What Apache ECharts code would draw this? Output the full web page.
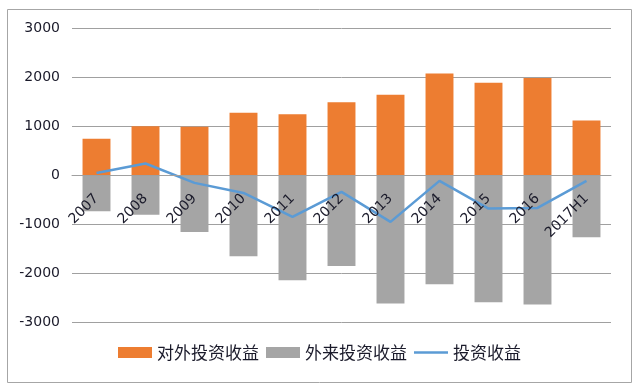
<!DOCTYPE html>
<html>
<head>
<meta charset="utf-8">
<style>
html,body{margin:0;padding:0;background:#fff;}
#chart{width:639px;height:389px;}
</style>
<script src="https://cdn.jsdelivr.net/npm/echarts@6/dist/echarts.min.js"></script>
</head>
<body>
<div id="chart"></div>
<script>
const categories = ['2007','2008','2009','2010','2011','2012','2013','2014','2015','2016','2017H1'];
const outward = [750, 1005, 995, 1280, 1250, 1495, 1645, 2080, 1890, 1985, 1120];
const inward = [-730, -800, -1150, -1645, -2135, -1845, -2610, -2215, -2585, -2630, -1260];
const net = [50, 245, -150, -355, -845, -335, -945, -110, -675, -660, -110];
const yTicks = [-3000, -2000, -1000, 0, 1000, 2000, 3000];
const seriesNames = ['对外投资收益', '外来投资收益', '投资收益'];

const chart = echarts.init(document.getElementById('chart'));
const txt = '#1a1a2a';
const numFont = "'DejaVu Sans'";
const gridTop = 28.3, gridBottom = 66.3, H = 389;
const plotH = H - gridTop - gridBottom;
const zeroOffset = plotH * (0 - yTicks[0]) / (yTicks[yTicks.length - 1] - yTicks[0]);
chart.setOption({
  animation: false,
  backgroundColor: '#fff',
  textStyle: {fontFamily: numFont},
  graphic: [{
    type: 'rect',
    shape: {x: 7.5, y: 9.5, width: 624, height: 373},
    style: {fill: 'none', stroke: '#a6a6a6', lineWidth: 1},
    silent: true
  }],
  grid: {left: 72, right: 28, top: gridTop, bottom: gridBottom, containLabel: false},
  legend: {
    bottom: 23,
    left: 'center',
    itemWidth: 34,
    itemHeight: 11,
    itemGap: 7,
    textStyle: {fontFamily: "'Noto Sans CJK SC'", fontSize: 17, color: txt},
    data: [
      {name: seriesNames[0], icon: 'rect'},
      {name: seriesNames[1], icon: 'rect'},
      {name: seriesNames[2], icon: 'path://M0,0H36V2.4H0Z'}
    ]
  },
  xAxis: {
    type: 'category',
    data: categories,
    position: 'bottom',
    offset: -zeroOffset,
    z: 20,
    axisLine: {onZero: false, lineStyle: {color: '#a0a0a0', width: 1}},
    axisTick: {show: false},
    axisLabel: {rotate: 45, margin: 21, fontFamily: numFont, fontSize: 14, color: txt, interval: 0}
  },
  yAxis: {
    type: 'value',
    min: yTicks[0],
    max: yTicks[yTicks.length - 1],
    interval: 1000,
    axisLine: {show: false},
    axisTick: {show: false},
    splitLine: {lineStyle: {color: '#a0a0a0', width: 1}},
    axisLabel: {margin: 12, fontFamily: numFont, fontSize: 14, color: txt, formatter: v => String(v)}
  },
  series: [
    {name: seriesNames[0], type: 'bar', stack: 'total', data: outward, barWidth: '57%',
     itemStyle: {color: '#ED7D31'}},
    {name: seriesNames[1], type: 'bar', stack: 'total', data: inward, barWidth: '57%',
     itemStyle: {color: '#A5A5A5'}},
    {name: seriesNames[2], type: 'line', data: net, symbol: 'none', z: 5,
     lineStyle: {color: '#5B9BD5', width: 2.5}, itemStyle: {color: '#5B9BD5'}}
  ]
});
</script>
</body>
</html>
